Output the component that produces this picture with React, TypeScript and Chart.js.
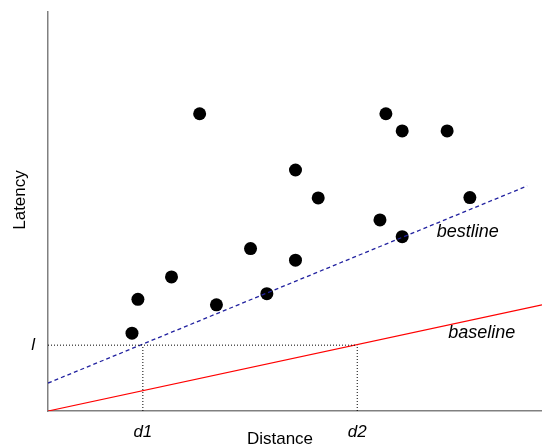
import React, { useEffect, useRef } from "react";
import { Chart, registerables } from "chart.js";

Chart.register(...registerables);

// Observed measurements (distance, latency)
const distances = [17.0, 18.2, 25.0, 30.7, 34.1, 41.0, 44.3, 50.1, 50.1, 54.7, 67.2, 68.4, 71.7, 71.7, 80.8, 85.4];
const latencies = [19.5, 28.0, 33.6, 74.5, 26.6, 40.7, 29.4, 37.8, 60.4, 53.4, 47.9, 74.5, 70.2, 43.7, 70.2, 53.5];

// Reference lines (endpoints)
const baselineX = [0, 100];
const baselineY = [0, 26.6];
const bestlineX = [0, 97];
const bestlineY = [7, 56.4];

// Marked levels
const levelL = 16.5;
const d1 = 19.2;
const d2 = 62.6;
const xTickValues = [d1, d2];
const xTickLabels = ["d1", "d2"];
const yTickValues = [levelL];
const yTickLabels = ["l"];

const FONT = "'Liberation Sans', Arial, Helvetica, sans-serif";

export default function App() {
  const ref = useRef<HTMLCanvasElement | null>(null);

  useEffect(() => {
    if (!ref.current) return;

    const textPlugin = {
      id: "annotText",
      afterDraw(chart: any) {
        const { ctx, scales } = chart;
        const xs = scales.x;
        const ys = scales.y;
        ctx.save();
        ctx.fillStyle = "#000";
        ctx.font = `17px ${FONT}`;
        ctx.textAlign = "center";
        ctx.textBaseline = "middle";
        ctx.fillText("Distance", 280, 439);
        ctx.save();
        ctx.translate(20, 200);
        ctx.rotate(-Math.PI / 2);
        ctx.fillText("Latency", 0, 0);
        ctx.restore();
        ctx.font = `italic 18px ${FONT}`;
        ctx.textAlign = "left";
        ctx.fillText("bestline", xs.getPixelForValue(78.7), ys.getPixelForValue(44.9));
        ctx.fillText("baseline", xs.getPixelForValue(81), ys.getPixelForValue(19.5));
        ctx.restore();
      },
    };

    const zeroPad = (scale: any) => {
      scale.paddingTop = 0;
      scale.paddingBottom = 0;
      scale.paddingLeft = 0;
      scale.paddingRight = 0;
    };

    const chart = new Chart(ref.current, {
      type: "scatter",
      data: {
        datasets: [
          {
            label: "guide-h",
            type: "line",
            data: [
              { x: 0, y: levelL },
              { x: d2, y: levelL },
            ],
            borderColor: "#000",
            borderWidth: 1,
            borderDash: [1, 2],
            pointRadius: 0,
            fill: false,
          },
          {
            label: "guide-d1",
            type: "line",
            data: [
              { x: d1, y: 0 },
              { x: d1, y: levelL },
            ],
            borderColor: "#000",
            borderWidth: 1,
            borderDash: [1, 2],
            pointRadius: 0,
            fill: false,
          },
          {
            label: "guide-d2",
            type: "line",
            data: [
              { x: d2, y: 0 },
              { x: d2, y: levelL },
            ],
            borderColor: "#000",
            borderWidth: 1,
            borderDash: [1, 2],
            pointRadius: 0,
            fill: false,
          },
          {
            label: "baseline",
            type: "line",
            data: baselineX.map((x, i) => ({ x, y: baselineY[i] })),
            borderColor: "#ff0000",
            borderWidth: 1.2,
            pointRadius: 0,
            fill: false,
          },
          {
            label: "bestline",
            type: "line",
            data: bestlineX.map((x, i) => ({ x, y: bestlineY[i] })),
            borderColor: "#2222a0",
            borderWidth: 1.3,
            borderDash: [4, 3],
            pointRadius: 0,
            fill: false,
          },
          {
            label: "measurements",
            data: distances.map((x, i) => ({ x, y: latencies[i] })),
            backgroundColor: "#000",
            borderColor: "#000",
            borderWidth: 0,
            pointRadius: 6.5,
          },
        ],
      },
      options: {
        animation: false,
        responsive: false,
        layout: { autoPadding: false, padding: { top: 12, right: 0, left: 0, bottom: 0 } },
        plugins: {
          legend: { display: false },
          tooltip: { enabled: false },
        },
        scales: {
          x: {
            type: "linear",
            min: 0,
            max: 100,
            grid: { display: false },
            border: { display: true, color: "#808080", width: 1.5 },
            afterBuildTicks: (scale: any) => {
              scale.ticks = xTickValues.map((v) => ({ value: v }));
            },
            afterFit: (scale: any) => {
              scale.height = 36;
              zeroPad(scale);
            },
            ticks: {
              autoSkip: false,
              maxRotation: 0,
              padding: 3,
              color: "#000",
              font: { family: FONT, size: 17, style: "italic" },
              callback: (_v: any, i: number) => xTickLabels[i],
            },
          },
          y: {
            type: "linear",
            min: 0,
            max: 100,
            grid: { display: false },
            border: { display: true, color: "#808080", width: 1.5 },
            afterBuildTicks: (scale: any) => {
              scale.ticks = yTickValues.map((v) => ({ value: v }));
            },
            afterFit: (scale: any) => {
              scale.width = 48;
              zeroPad(scale);
            },
            ticks: {
              autoSkip: false,
              padding: 5,
              color: "#000",
              font: { family: FONT, size: 17, style: "italic" },
              callback: (_v: any, i: number) => yTickLabels[i],
            },
          },
        },
      },
      plugins: [textPlugin],
    });

    return () => chart.destroy();
  }, []);

  return (
    <div style={{ position: "fixed", left: 0, top: 0, width: 542, height: 447, background: "#fff" }}>
      <canvas ref={ref} width={542} height={447} />
    </div>
  );
}
